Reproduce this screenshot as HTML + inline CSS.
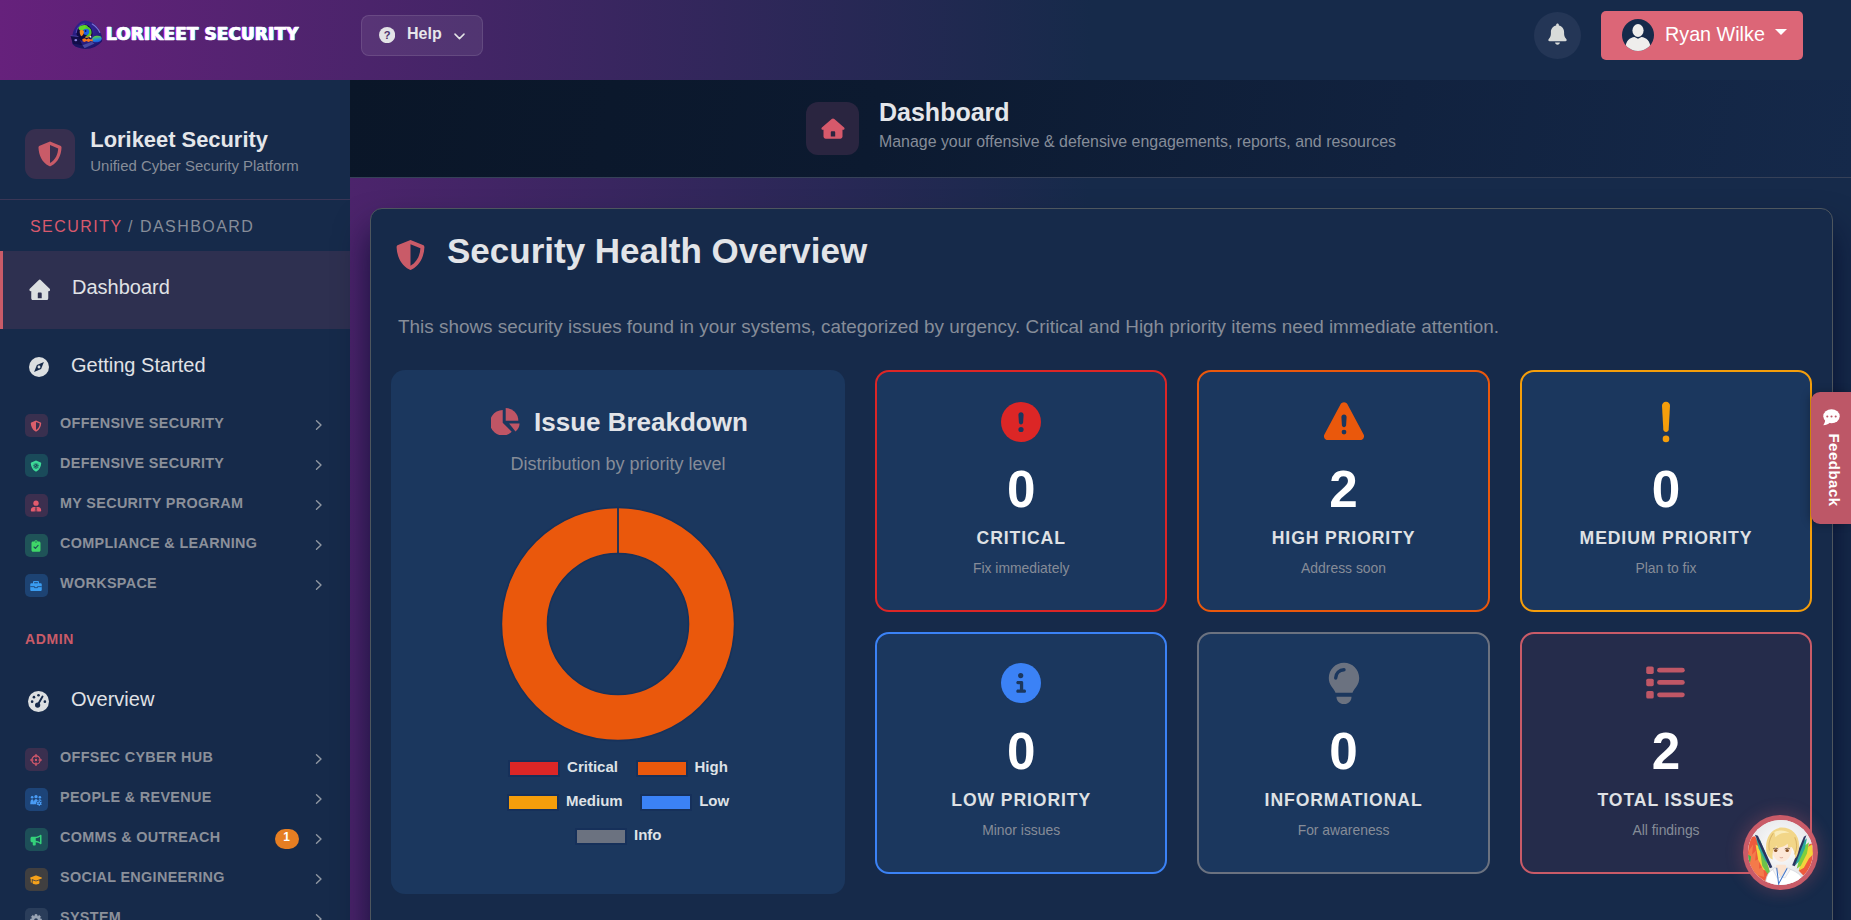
<!DOCTYPE html>
<html lang="en">
<head>
<meta charset="utf-8">
<title>Dashboard - Lorikeet Security</title>
<style>
*{box-sizing:border-box;margin:0;padding:0}
html,body{width:1851px;height:920px;overflow:hidden}
body{position:relative;font-family:"Liberation Sans",Arial,sans-serif;color:#e0e2e6;
  background:linear-gradient(91deg,#66217c 0%,#162a4a 58.5%,#162a4a 100%);}
svg{display:block}
.abs{position:absolute}

/* ---------- top bar ---------- */
header.topbar{position:absolute;left:0;top:0;width:1851px;height:80px}
.brand{position:absolute;left:70px;top:18px;height:34px;display:flex;align-items:center}
.brand-text{position:absolute;left:106px;top:22px;font-family:"DejaVu Sans Condensed","DejaVu Sans","Liberation Sans",sans-serif;font-weight:700;
  font-size:18.5px;line-height:24px;color:#fff;white-space:nowrap;letter-spacing:.3px;-webkit-text-stroke:.6px #fff;
  text-shadow:-1.2px 0 0 #ff3df0,1.2px 0 0 #22e6ff}
.help-btn{position:absolute;left:361px;top:15px;width:122px;height:41px;border-radius:8px;
  background:rgba(255,255,255,.075);border:1px solid rgba(255,255,255,.11)}
.help-btn .q{position:absolute;left:16.600px;top:11.200px}
.help-btn .t{position:absolute;left:45px;top:8px;font-size:16px;font-weight:700;color:#e6e6ea;line-height:20px}
.help-btn .c{position:absolute;left:91.500px;top:16.500px}
.bell{position:absolute;left:1534.100px;top:12px;width:46.800px;height:46.800px;border-radius:50%;background:#243656}
.bell svg{position:absolute;left:14.100px;top:11px}
.user-btn{position:absolute;left:1601px;top:11px;width:202px;height:49px;border-radius:5px;background:#dc6677}
.user-btn .av{position:absolute;left:21px;top:8px;width:32px;height:32px;border-radius:50%;background:#162a4a;overflow:hidden}
.user-btn .nm{position:absolute;left:64px;top:11px;font-size:19.750px;line-height:24px;color:#fff;white-space:nowrap}
.user-btn .caret{position:absolute;left:174px;top:18px;width:0;height:0;border-left:6px solid transparent;border-right:6px solid transparent;border-top:6px solid #fff}

/* ---------- sidebar ---------- */
aside.sidebar{position:absolute;left:0;top:80px;width:350px;height:840px;background:#162a4a;overflow:hidden}
.sb-head{position:absolute;left:0;top:0;width:350px;height:120px;border-bottom:1px solid #3a3656}
.sb-logo{position:absolute;left:25px;top:49px;width:50px;height:50px;border-radius:11px;background:#372f4f}
.sb-logo svg{position:absolute;left:13px;top:12px}
.sb-title{position:absolute;left:90.300px;top:47px;font-size:21.900px;font-weight:700;line-height:26px;color:#e4e6ea;white-space:nowrap}
.sb-sub{position:absolute;left:90.300px;top:77px;font-size:14.950px;line-height:18px;color:#868d99;white-space:nowrap}
.crumb{position:absolute;left:30px;top:137px;font-size:16px;line-height:20px;letter-spacing:1.45px;color:#868d99;white-space:nowrap}
.crumb b{font-weight:400;color:#d9596d}
.nav-main{position:absolute;left:0;width:350px;height:78px}
.nav-main.active{background:#2e3050;border-left:3px solid #c95b68}
.nav-main .ic{position:absolute}
.nav-main .tx{position:absolute;font-size:20px;line-height:24px;color:#e0e2e6;white-space:nowrap}
.grp{position:absolute;left:0;width:350px;height:40px}
.grp .box{position:absolute;left:25px;top:8px;width:23px;height:23px;border-radius:5px}
.grp .box svg{position:absolute;left:5.300px;top:5.500px}
.grp .tx{position:absolute;left:60px;top:8.200px;font-size:14.400px;line-height:18px;font-weight:700;letter-spacing:.33px;color:#8b909a;white-space:nowrap}
.grp .chev{position:absolute;left:315px;top:13px}
.sec-label{position:absolute;left:25px;top:550px;font-size:14px;line-height:18px;font-weight:700;letter-spacing:.6px;color:#c95b68}
.badge{position:absolute;left:275px;top:9px;width:24px;height:20px;border-radius:10px;background:#e67e22;color:#fff;font-size:12px;font-weight:700;line-height:17px;text-align:center;padding-right:1px}

/* ---------- page header band ---------- */
.pagehead{position:absolute;left:350px;top:80px;width:1501px;height:98px;
  background:linear-gradient(100deg,#0a1628 0%,#0c1a30 35%,#11223f 70%,#15294a 100%);border-bottom:1px solid #364158}
.ph-icon{position:absolute;left:456px;top:22px;width:53px;height:53px;border-radius:12px;background:#2a2540}
.ph-icon svg{position:absolute;left:15px;top:16px}
.ph-title{position:absolute;left:529px;top:17px;font-size:25px;line-height:30px;font-weight:700;color:#e4e6ea;white-space:nowrap}
.ph-sub{position:absolute;left:529px;top:52px;font-size:15.920px;line-height:20px;color:#868d99;white-space:nowrap}

/* ---------- main card ---------- */
main.card{position:absolute;left:370px;top:208px;width:1463px;height:760px;background:#162a4a;border:1px solid #4e565e;border-radius:12px;
  box-shadow:0 22px 34px rgba(2,8,40,.72)}
.ci{position:absolute;left:1px;top:1px}
.card h1{position:absolute;left:75px;top:19px;font-size:35px;line-height:44px;font-weight:700;color:#e2e4e8;white-space:nowrap}
.card .h1ic{position:absolute;left:24px;top:29px}
.card .desc{position:absolute;left:26px;top:105px;font-size:18.900px;line-height:24px;color:#868d99;white-space:nowrap}

.panel{position:absolute;left:19px;top:160px;width:454px;height:524px;border-radius:14px;background:#1b375e}
.panel h2{position:absolute;left:143px;top:36px;font-size:26px;line-height:32px;font-weight:700;color:#e2e4e8;white-space:nowrap}
.panel .pie{position:absolute;left:100px;top:38px}
.panel .sub{position:absolute;left:0;top:83px;width:454px;text-align:center;font-size:18px;line-height:22px;color:#868c98}
.panel .donut{position:absolute;left:109.200px;top:135.800px}
.lg{position:absolute;height:16px}
.lg i{position:absolute;left:0;top:0;width:52px;height:16.500px;border:2px solid #16305a;display:block}
.lg span{position:absolute;left:59px;top:-2px;font-size:15px;line-height:18px;font-weight:700;color:#dfe2e6;white-space:nowrap}

.stat{position:absolute;width:292.400px;height:242px;border-radius:14px;border:2px solid #888;background:#1b375e;text-align:center}
.stat .ico{position:absolute;left:0;width:288.400px;top:28px;height:44px;display:flex;justify-content:center;align-items:center}
.stat .num{position:absolute;left:0;width:288.400px;top:89.500px;font-size:51.200px;line-height:56px;font-weight:700;color:#fff}
.stat .lbl{position:absolute;left:0;width:288.400px;top:155px;font-size:17.600px;line-height:22px;font-weight:700;letter-spacing:.9px;color:#dfe1e4}
.stat .sm{position:absolute;left:0;width:288.400px;top:187px;font-size:13.900px;line-height:18px;color:#868c98}

/* ---------- floating ---------- */
.feedback{position:absolute;left:1811px;top:392px;width:40px;height:132px;background:#bd5767;border-radius:9px 0 0 9px;box-shadow:-2px 0 8px rgba(0,0,0,.25)}
.feedback svg{position:absolute;left:12.300px;top:17.300px}
.feedback span{position:absolute;left:-18px;top:68px;width:82px;height:20px;transform:rotate(90deg);font-size:15px;line-height:20px;font-weight:700;letter-spacing:.5px;color:#fff;text-align:center}
.chat{position:absolute;left:1743px;top:815px;width:75px;height:75px;border-radius:50%;background:#c95b68;box-shadow:0 0 14px 5px rgba(201,91,104,.2)}
.chat .in{position:absolute;left:5px;top:5px;width:65px;height:65px;border-radius:50%;background:#f1f0ee;overflow:hidden}
</style>
</head>
<body>

<header class="topbar">
  <svg style="position:absolute;left:70px;top:19.500px" width="33" height="30" viewBox="0 0 33 30"><defs><radialGradient id="hg" cx=".45" cy=".35" r=".7"><stop offset="0" stop-color="#3a2aa8"/><stop offset="1" stop-color="#1c1466"/></radialGradient><linearGradient id="wg" x1="0" y1="0" x2="0" y2="1"><stop offset="0" stop-color="#62d82a"/><stop offset=".55" stop-color="#1f8fd0"/><stop offset="1" stop-color="#1f4fe0"/></linearGradient></defs><path d="M2.600 14.500 C4 7 9 1 15 .5 C22 1 28 6 30.500 12.500 C32 16 32.500 19 32 21.500 C28 26 22 29 15.500 29 C10 28.500 5 27 2.500 24 C1.800 21 2 17.500 2.600 14.500 Z" fill="url(#hg)"/><path d="M22.200 4 C25.500 6 28.300 9 29.800 12.500" fill="none" stroke="#8f86e6" stroke-width="1.100" stroke-linecap="round" opacity=".8"/><path d="M6.500 13 C7 8 10.500 4.600 14.500 4.500 C19 4.600 22.500 8.500 22.500 13.500 C22.500 18 19 21 14.500 21 C10 21 6.500 18 6.500 13 Z" fill="#0e0a42"/><path d="M6.200 13 C6.800 7.500 10.500 4 14.800 4" fill="none" stroke="#6f63d8" stroke-width=".8" opacity=".8"/><ellipse cx="13.200" cy="7.800" rx="4.800" ry="2.600" fill="#5fd82a" transform="rotate(-12 13.200 7.800)"/><path d="M15 6.500 C19 6 22 9 21.500 13 C21 16 18 17.500 15.500 16.500 C18 15 19 12 17.500 9.500 Z" fill="#4fca2a"/><path d="M15.800 16.600 C18.500 17 21 15.500 21.600 12.500 C21.200 16.800 18 18.600 15 17.600 Z" fill="#f6a81c"/><circle cx="16.200" cy="11.800" r="3.100" fill="#1f5fe4"/><circle cx="15.600" cy="11" r=".9" fill="#0c1a60"/><path d="M9.800 10.600 C11.500 9.600 13.800 10.200 14 12 C13.600 14.500 12.300 16 11.200 16.300 C10 15 9.400 12.500 9.800 10.600 Z" fill="#f68a1c"/><ellipse cx="26.800" cy="19" rx="5" ry="3.300" fill="url(#wg)" transform="rotate(-10 26.800 19)"/><path d="M12.300 19 L15 18.200 L16.500 19.500 L18.500 18.300 L20.500 19.600 L22.600 19 L22.800 21.400 L20.500 21 L18.600 22 L16.400 21 L14.500 22 L12.600 21.200 Z" fill="#f6741c"/><rect x="19.700" y="15.900" width="1.500" height="1.700" fill="#e8e8ff"/><path d="M.4 15.600 L8.400 16.500 L12.300 25.300 L3 24 Z" fill="#120d48"/><path d="M.4 15.600 L8.400 16.500" stroke="#5a55b8" stroke-width=".7"/><ellipse cx="5.800" cy="20.200" rx="1.400" ry="1.100" fill="#8d86e0"/><path d="M12.300 25.300 L21.800 21.700 L24.500 23.500 L14.500 28.300 Z" fill="#4a4aa0"/><path d="M3 24 L12.300 25.300 L14.500 28.300 L5.500 26.500 Z" fill="#1a1560"/></svg>
  <div class="brand-text">LORIKEET SECURITY</div>
  <div class="help-btn">
    <svg class="q" width="16.200" height="16.200" viewBox="0 0 16 16"><circle cx="8" cy="8" r="8" fill="#e3e3e6"/><text x="8" y="12" font-family="Liberation Sans, sans-serif" font-weight="700" font-size="11" text-anchor="middle" fill="#4d316b">?</text></svg>
    <span class="t">Help</span>
    <svg class="c" width="11" height="7" viewBox="0 0 11 7"><path d="M1 1.100 L5.500 5.600 L10 1.100" fill="none" stroke="#e3e3e6" stroke-width="1.5" stroke-linecap="round" stroke-linejoin="round"/></svg>
  </div>
  <div class="bell"><svg width="19" height="22" viewBox="0 0 18 21"><path d="M9 0.5c-.7 0-1.3.6-1.3 1.3v.7C4.8 3.100 2.700 5.600 2.700 8.700v1.300c0 1.800-.6 3.500-1.700 4.900l-.5.600c-.3.400-.4.900-.2 1.300.2.500.7.700 1.200.700h15c.5 0 1-.3 1.200-.700.2-.500.1-1-.2-1.300l-.5-.600c-1.100-1.400-1.700-3.100-1.700-4.900V8.700c0-3.100-2.100-5.600-5-6.200v-.7C10.300 1.100 9.700.5 9 .5zM6.700 18.700h4.600c0 1.200-1 2.100-2.300 2.100s-2.300-.9-2.300-2.100z" fill="#d8dbd9"/></svg></div>
  <div class="user-btn">
    <div class="av"><svg width="32" height="32" viewBox="0 0 32 32"><ellipse cx="16" cy="11.500" rx="5.600" ry="6.500" fill="#efeeec"/><path d="M3.500 29c0-7 4.500-10.500 9-11l3.500 1.800 3.500-1.800c4.500.5 9 4 9 11v3h-25z" fill="#efeeec"/></svg></div>
    <span class="nm">Ryan Wilke</span>
    <span class="caret"></span>
  </div>
</header>

<aside class="sidebar">
  <div class="sb-head">
    <div class="sb-logo"><svg width="24" height="26" viewBox="0 0 24 26"><path id="shieldhalf" d="M12 0.600 L22.300 4.700 C23.100 5 23.600 5.800 23.500 6.700 C23.200 13.500 20.400 21.200 12.900 25.100 C12.300 25.400 11.700 25.400 11.100 25.100 C3.600 21.200 0.800 13.500 0.500 6.700 C0.400 5.800 0.900 5 1.700 4.700 Z M12 4 L12 21.900 C17.600 18.700 19.900 13 20.200 7.400 Z" fill="#c95b68" fill-rule="evenodd"/></svg></div>
    <div class="sb-title">Lorikeet Security</div>
    <div class="sb-sub">Unified Cyber Security Platform</div>
  </div>
  <div class="crumb"><b>SECURITY</b> / DASHBOARD</div>
  <nav>
    <a class="nav-main active" style="top:171px"><svg class="ic" style="left:25.800px;top:27.600px" width="21.500" height="21.600" viewBox="0 0 24 21" preserveAspectRatio="none"><path d="M12 .6c.5 0 .9.2 1.300.5l9.800 8.500c.6.500.6 1.300.1 1.800-.4.500-1.100.6-1.700.3V18.600c0 1.200-1 2.200-2.200 2.200H4.700c-1.200 0-2.200-1-2.200-2.200V11.700c-.6.300-1.300.2-1.700-.3-.5-.500-.5-1.300.1-1.800L10.700 1.100c.4-.3.800-.5 1.300-.5zM9.800 14.300v4.300h4.400v-4.300c0-.6-.5-1.100-1.100-1.100h-2.200c-.6 0-1.100.5-1.100 1.100z" fill="#dcdfe1"/></svg><span class="tx" style="left:69px;top:24px">Dashboard</span></a>
    <a class="nav-main" style="top:249px"><svg class="ic" style="left:28.600px;top:28.400px" width="20" height="20" viewBox="0 0 24 24"><circle cx="12" cy="12" r="12" fill="#dcdfe1"/><path d="M17.900 6.100 L14.500 14.500 L6.100 17.900 L9.500 9.500 Z" fill="#162a4a"/><circle cx="12" cy="12" r="1.700" fill="#dcdfe1"/></svg><span class="tx" style="left:71px;top:24px">Getting Started</span></a>
    <a class="grp" style="top:326px"><span class="box" style="background:#39304f"><svg width="12" height="12" viewBox="0 0 24 24"><path d="M12 1 L21.300 4.800 C22 5.100 22.500 5.800 22.400 6.600 C22.100 12.700 19.600 19.600 12.800 23.100 C12.300 23.400 11.700 23.400 11.200 23.100 C4.400 19.600 1.900 12.700 1.600 6.600 C1.500 5.800 2 5.100 2.700 4.800 Z M12 4.100 L12 20.200 C17 17.300 19.100 12.200 19.400 7.100 Z" fill="#dc5f6b" fill-rule="evenodd"/></svg></span><span class="tx">OFFENSIVE SECURITY</span><svg class="chev" width="8" height="12" viewBox="0 0 8 12"><path d="M1.500 1.800 L6 6 L1.500 10.200" fill="none" stroke="#9097a2" stroke-width="1.400" stroke-linecap="round" stroke-linejoin="round"/></svg></a>
    <a class="grp" style="top:366px"><span class="box" style="background:#1a4a5a"><svg width="12" height="12" viewBox="0 0 24 24"><path d="M12 1 L21.300 4.800 C22 5.100 22.500 5.800 22.400 6.600 C22.100 12.700 19.600 19.600 12.800 23.100 C12.300 23.400 11.700 23.400 11.200 23.100 C4.400 19.600 1.900 12.700 1.600 6.600 C1.500 5.800 2 5.100 2.700 4.800 Z" fill="#3edc98"/><circle cx="12" cy="11.600" r="3.700" fill="#1a4a5a"/><circle cx="17.20" cy="11.60" r="1.1" fill="#1a4a5a"/><circle cx="15.68" cy="15.28" r="1.1" fill="#1a4a5a"/><circle cx="12.00" cy="16.80" r="1.1" fill="#1a4a5a"/><circle cx="8.32" cy="15.28" r="1.1" fill="#1a4a5a"/><circle cx="6.80" cy="11.60" r="1.1" fill="#1a4a5a"/><circle cx="8.32" cy="7.92" r="1.1" fill="#1a4a5a"/><circle cx="12.00" cy="6.40" r="1.1" fill="#1a4a5a"/><circle cx="15.68" cy="7.92" r="1.1" fill="#1a4a5a"/><circle cx="10.800" cy="10.600" r="1" fill="#3edc98"/><circle cx="13.300" cy="12.600" r=".8" fill="#3edc98"/></svg></span><span class="tx">DEFENSIVE SECURITY</span><svg class="chev" width="8" height="12" viewBox="0 0 8 12"><path d="M1.500 1.800 L6 6 L1.500 10.200" fill="none" stroke="#9097a2" stroke-width="1.400" stroke-linecap="round" stroke-linejoin="round"/></svg></a>
    <a class="grp" style="top:406px"><span class="box" style="background:#3c2f4f"><svg width="12" height="12" viewBox="0 0 24 24"><circle cx="12" cy="6.300" r="5.300" fill="#e55b6d"/><path d="M7.500 14 L10.400 14 L12 16 L13.600 14 L16.500 14 C19.800 14 22.300 16.700 22.300 20 L22.300 21.500 C22.300 22.300 21.700 23 20.800 23 L3.200 23 C2.300 23 1.700 22.300 1.700 21.500 L1.700 20 C1.700 16.700 4.200 14 7.500 14 Z" fill="#e55b6d"/><path d="M12 15.800 L10.600 17.400 L11.300 18.300 L10 23 L14 23 L12.700 18.300 L13.400 17.400 Z" fill="#3c2f4f" stroke="#3c2f4f" stroke-width="1.200"/><path d="M12 16.400 L11.200 17.400 L11.700 18.200 L10.900 22.300 L13.100 22.300 L12.300 18.200 L12.800 17.400 Z" fill="#e55b6d"/></svg></span><span class="tx">MY SECURITY PROGRAM</span><svg class="chev" width="8" height="12" viewBox="0 0 8 12"><path d="M1.500 1.800 L6 6 L1.500 10.200" fill="none" stroke="#9097a2" stroke-width="1.400" stroke-linecap="round" stroke-linejoin="round"/></svg></a>
    <a class="grp" style="top:446px"><span class="box" style="background:#1f5358"><svg width="12" height="12" viewBox="0 0 24 24"><path d="M6 3 L8.700 3 C9.100 1.500 10.400 .5 12 .5 C13.600 .5 14.900 1.500 15.300 3 L18 3 C19.700 3 21 4.300 21 6 L21 20.500 C21 22.200 19.700 23.500 18 23.500 L6 23.500 C4.300 23.500 3 22.200 3 20.500 L3 6 C3 4.300 4.300 3 6 3 Z" fill="#3fd768"/><circle cx="12" cy="4" r="1.300" fill="#1f5358"/><path d="M8 14 L10.800 16.900 L16.200 10.800" fill="none" stroke="#1f5358" stroke-width="2.300" stroke-linecap="round" stroke-linejoin="round"/></svg></span><span class="tx">COMPLIANCE &amp; LEARNING</span><svg class="chev" width="8" height="12" viewBox="0 0 8 12"><path d="M1.500 1.800 L6 6 L1.500 10.200" fill="none" stroke="#9097a2" stroke-width="1.400" stroke-linecap="round" stroke-linejoin="round"/></svg></a>
    <a class="grp" style="top:486px"><span class="box" style="background:#1d4373"><svg width="12" height="12" viewBox="0 0 24 24"><path d="M8.500 2 L15.500 2 C16.900 2 18 3.100 18 4.500 L18 6.500 L21 6.500 C22.400 6.500 23.500 7.600 23.500 9 L23.500 19.500 C23.500 20.900 22.400 22 21 22 L3 22 C1.600 22 .5 20.900 .5 19.500 L.5 9 C.5 7.600 1.600 6.500 3 6.500 L6 6.500 L6 4.500 C6 3.100 7.100 2 8.500 2 Z M8.300 6.500 L15.700 6.500 L15.700 4.600 C15.700 4.400 15.600 4.300 15.400 4.300 L8.600 4.300 C8.400 4.300 8.300 4.400 8.300 4.600 Z" fill="#3a9cf0" fill-rule="evenodd"/><path d="M.5 13.300 L9 13.300 L9 15.300 L15 15.300 L15 13.300 L23.500 13.300" fill="none" stroke="#1d4373" stroke-width="1.700"/></svg></span><span class="tx">WORKSPACE</span><svg class="chev" width="8" height="12" viewBox="0 0 8 12"><path d="M1.500 1.800 L6 6 L1.500 10.200" fill="none" stroke="#9097a2" stroke-width="1.400" stroke-linecap="round" stroke-linejoin="round"/></svg></a>
    <div class="sec-label">ADMIN</div>
    <a class="nav-main" style="top:583px"><svg class="ic" style="left:28px;top:28px" width="21" height="21" viewBox="0 0 24 24"><circle cx="12" cy="12" r="12" fill="#dcdfe1"/><circle cx="12" cy="4.800" r="1.500" fill="#162a4a"/><circle cx="6.800" cy="7" r="1.500" fill="#162a4a"/><circle cx="4.700" cy="12.200" r="1.500" fill="#162a4a"/><circle cx="19.300" cy="12.200" r="1.500" fill="#162a4a"/><path d="M16.600 6.300 L11.200 15.600" stroke="#162a4a" stroke-width="2.200" stroke-linecap="round"/><circle cx="11" cy="16" r="3" fill="#162a4a"/></svg><span class="tx" style="left:71px;top:24px">Overview</span></a>
    <a class="grp" style="top:660px"><span class="box" style="background:#3a2f4f"><svg width="12" height="12" viewBox="0 0 24 24"><circle cx="12" cy="12" r="8.300" fill="none" stroke="#dc5a6c" stroke-width="2.400"/><path d="M12 .8 V6.200 M12 17.800 V23.200 M.8 12 H6.200 M17.800 12 H23.200" stroke="#dc5a6c" stroke-width="2.400" stroke-linecap="round"/><circle cx="12" cy="12" r="2.300" fill="#dc5a6c"/></svg></span><span class="tx">OFFSEC CYBER HUB</span><svg class="chev" width="8" height="12" viewBox="0 0 8 12"><path d="M1.500 1.800 L6 6 L1.500 10.200" fill="none" stroke="#9097a2" stroke-width="1.400" stroke-linecap="round" stroke-linejoin="round"/></svg></a>
    <a class="grp" style="top:700px"><span class="box" style="background:#1d4478"><svg width="12" height="12" viewBox="0 0 24 24"><circle cx="4.3" cy="6.5" r="2.6" fill="#4a9cf5"/><path d="M0.5 20.5 C0.5 15.1 1.6400000000000001 10.7 4.3 10.7 C6.959999999999999 10.7 8.1 15.1 8.1 20.5 Z" fill="#4a9cf5"/><circle cx="19.7" cy="6.5" r="2.6" fill="#4a9cf5"/><path d="M15.899999999999999 14.5 C15.899999999999999 15.1 17.04 10.7 19.7 10.7 C22.36 10.7 23.5 15.1 23.5 14.5 Z" fill="#4a9cf5"/><circle cx="12" cy="5.3" r="3.3" fill="#4a9cf5"/><path d="M7.2 20.5 C7.2 14.6 8.64 10.2 12 10.2 C15.36 10.2 16.8 14.6 16.8 20.5 Z" fill="#4a9cf5"/><circle cx="18.5" cy="18.6" r="5.800" fill="#1d4478"/><rect x="17.40" y="13.40" width="2.200" height="10.400" rx=".6" fill="#4a9cf5" transform="rotate(0 18.5 18.6)"/><rect x="17.40" y="13.40" width="2.200" height="10.400" rx=".6" fill="#4a9cf5" transform="rotate(60 18.5 18.6)"/><rect x="17.40" y="13.40" width="2.200" height="10.400" rx=".6" fill="#4a9cf5" transform="rotate(120 18.5 18.6)"/><circle cx="18.5" cy="18.6" r="3.700" fill="#4a9cf5"/><circle cx="18.5" cy="18.6" r="1.500" fill="#1d4478"/></svg></span><span class="tx">PEOPLE &amp; REVENUE</span><svg class="chev" width="8" height="12" viewBox="0 0 8 12"><path d="M1.500 1.800 L6 6 L1.500 10.200" fill="none" stroke="#9097a2" stroke-width="1.400" stroke-linecap="round" stroke-linejoin="round"/></svg></a>
    <a class="grp" style="top:740px"><span class="box" style="background:#1d4f58"><svg width="12" height="12" viewBox="0 0 24 24"><path d="M21.500 1.500 C22.300 1.500 23 2.200 23 3 L23 19 C23 19.800 22.300 20.500 21.500 20.500 C21.100 20.500 20.700 20.300 20.400 20.100 C18 18 15 16.700 11.500 16.500 L11.500 21 C11.500 22.100 10.600 23 9.500 23 L7.500 23 C6.400 23 5.500 22.100 5.500 21 L5.500 16.500 L4 16.500 C2.300 16.500 1 15.200 1 13.500 L1 8.500 C1 6.800 2.300 5.500 4 5.500 L10 5.500 C14 5.500 17.700 4.200 20.400 1.900 C20.700 1.700 21.100 1.500 21.500 1.500 Z M20 5.700 C17.600 7.300 14.700 8.200 11.500 8.400 L11.500 13.600 C14.700 13.800 17.600 14.700 20 16.300 Z" fill="#34d27a" fill-rule="evenodd"/></svg></span><span class="tx">COMMS &amp; OUTREACH</span><span class="badge">1</span><svg class="chev" width="8" height="12" viewBox="0 0 8 12"><path d="M1.500 1.800 L6 6 L1.500 10.200" fill="none" stroke="#9097a2" stroke-width="1.400" stroke-linecap="round" stroke-linejoin="round"/></svg></a>
    <a class="grp" style="top:780px"><span class="box" style="background:#403f40"><svg width="12" height="12" viewBox="0 0 24 24"><path d="M12 3 C12.300 3 12.600 3.100 12.900 3.200 L23.200 7 C23.700 7.200 24 7.600 24 8.100 C24 8.600 23.700 9 23.200 9.200 L12.900 13 C12.300 13.200 11.700 13.200 11.100 13 L3.500 10.200 L3.500 16.500 C3.500 17 3.100 17.500 2.500 17.500 C1.900 17.500 1.500 17 1.500 16.500 L1.500 9.500 L.8 9.200 C.3 9 0 8.600 0 8.100 C0 7.600 .3 7.200 .8 7 L11.100 3.200 C11.400 3.100 11.700 3 12 3 Z" fill="#f5a11a"/><path d="M5.500 12.600 L10.600 14.500 C11.500 14.800 12.500 14.800 13.400 14.500 L18.500 12.600 L19 17.700 C19 19.500 15.900 21 12 21 C8.100 21 5 19.500 5 17.700 Z" fill="#f5a11a"/></svg></span><span class="tx">SOCIAL ENGINEERING</span><svg class="chev" width="8" height="12" viewBox="0 0 8 12"><path d="M1.500 1.800 L6 6 L1.500 10.200" fill="none" stroke="#9097a2" stroke-width="1.400" stroke-linecap="round" stroke-linejoin="round"/></svg></a>
    <a class="grp" style="top:820px"><span class="box" style="background:#2a3d5a"><svg width="12" height="12" viewBox="0 0 24 24"><path d="M20.21 9.44 L23.34 10.11 L23.34 13.89 L20.21 14.56 L19.61 16.00 L21.36 18.69 L18.69 21.36 L16.00 19.61 L14.56 20.21 L13.89 23.34 L10.11 23.34 L9.44 20.21 L8.00 19.61 L5.31 21.36 L2.64 18.69 L4.39 16.00 L3.79 14.56 L0.66 13.89 L0.66 10.11 L3.79 9.44 L4.39 8.00 L2.64 5.31 L5.31 2.64 L8.00 4.39 L9.44 3.79 L10.11 0.66 L13.89 0.66 L14.56 3.79 L16.00 4.39 L18.69 2.64 L21.36 5.31 L19.61 8.00 Z" fill="#9aa5b5" stroke="#9aa5b5" stroke-width="1" stroke-linejoin="round"/><circle cx="12" cy="12" r="3.700" fill="#2a3d5a"/></svg></span><span class="tx">SYSTEM</span><svg class="chev" width="8" height="12" viewBox="0 0 8 12"><path d="M1.500 1.800 L6 6 L1.500 10.200" fill="none" stroke="#9097a2" stroke-width="1.400" stroke-linecap="round" stroke-linejoin="round"/></svg></a>
  </nav>
</aside>

<section class="pagehead">
  <div class="ph-icon"><svg width="24" height="21" viewBox="0 0 24 21"><path d="M12 .6c.5 0 .9.2 1.300.5l9.800 8.500c.6.500.6 1.300.1 1.800-.4.500-1.100.6-1.700.3V18.600c0 1.200-1 2.200-2.200 2.200H4.700c-1.200 0-2.200-1-2.200-2.200V11.700c-.6.300-1.300.2-1.700-.3-.5-.500-.5-1.300.1-1.800L10.700 1.100c.4-.3.800-.5 1.300-.5zM9.800 14.300v4.300h4.400v-4.300c0-.6-.5-1.100-1.100-1.100h-2.200c-.6 0-1.100.5-1.100 1.100z" fill="#d6596b"/></svg></div>
  <div class="ph-title">Dashboard</div>
  <div class="ph-sub">Manage your offensive &amp; defensive engagements, reports, and resources</div>
</section>

<main class="card">
 <div class="ci">
  <svg class="h1ic" width="29" height="32" viewBox="0 0 24 26"><use href="#shieldhalf"/></svg>
  <h1>Security Health Overview</h1>
  <p class="desc">This shows security issues found in your systems, categorized by urgency. Critical and High priority items need immediate attention.</p>
  <section class="panel">
    <svg class="pie" width="29" height="27" viewBox="0 0 28 26"><path d="M11.300 1.900 A12.300 12.300 0 1 0 20 22.900 L11.300 14.200 Z" fill="#bf5565"/><path d="M14.200 0 A12.200 12.200 0 0 1 26.400 12.200 L14.200 12.200 Z" fill="#bf5565"/><path d="M17.500 15 L27.600 15 A10.500 10.500 0 0 1 23.700 22.700 Z" fill="#bf5565"/></svg>
    <h2>Issue Breakdown</h2>
    <div class="sub">Distribution by priority level</div>
    <svg class="donut" width="236" height="236" viewBox="0 0 236 236"><circle cx="118" cy="118" r="93.55" fill="none" stroke="#ea580c" stroke-width="46.099999999999994"/><circle cx="118" cy="118" r="116.6" fill="none" stroke="#17325b" stroke-width="1.600"/><circle cx="118" cy="118" r="70.5" fill="none" stroke="#17325b" stroke-width="1.600"/><path d="M118 1.4000000000000057 L118 47.5" stroke="#17325b" stroke-width="1.800"/></svg>
    <div class="lg" style="left:117.1px;top:390px"><i style="background:#dc2626"></i><span>Critical</span></div>
    <div class="lg" style="left:244.5px;top:390px"><i style="background:#ea580c"></i><span>High</span></div>
    <div class="lg" style="left:116px;top:424px"><i style="background:#f59e0b"></i><span>Medium</span></div>
    <div class="lg" style="left:249.2px;top:424px"><i style="background:#3b82f6"></i><span>Low</span></div>
    <div class="lg" style="left:184px;top:458px"><i style="background:#6b7280"></i><span>Info</span></div>
  </section>
  <article class="stat" style="left:503px;top:160px;border-color:#dc2626;background:#1b375e"><div class="ico"><svg width="40" height="40" viewBox="0 0 40 40"><circle cx="20" cy="20" r="20" fill="#dc2626"/><path d="M20 10.200 C21.500 10.200 22.700 11.400 22.600 12.900 L22.100 20.600 C22 21.700 21.100 22.500 20 22.500 C18.900 22.500 18 21.700 17.900 20.600 L17.400 12.900 C17.300 11.400 18.500 10.200 20 10.200 Z" fill="#1b375e"/><circle cx="20" cy="27.500" r="2.600" fill="#1b375e"/></svg></div><div class="num">0</div><div class="lbl">CRITICAL</div><div class="sm">Fix immediately</div></article>
  <article class="stat" style="left:825.4px;top:160px;border-color:#ea580c;background:#1b375e"><div class="ico"><svg width="42" height="40" viewBox="0 0 42 40"><path d="M21 .2 C22.400 .2 23.600 .9 24.300 2.100 L40.600 32.600 C41.200 33.700 41.200 35.100 40.500 36.200 C39.900 37.300 38.700 38 37.400 38 L4.600 38 C3.300 38 2.100 37.300 1.500 36.200 C.8 35.100 .8 33.700 1.400 32.600 L17.700 2.100 C18.400 .9 19.600 .2 21 .2 Z" fill="#ea580c"/><path d="M21 12.400 C22.500 12.400 23.700 13.600 23.600 15.100 L23.100 23.300 C23 24.400 22.100 25.200 21 25.200 C19.900 25.200 19 24.400 18.900 23.300 L18.400 15.100 C18.300 13.600 19.500 12.400 21 12.400 Z" fill="#1b375e"/><circle cx="21" cy="30.100" r="2.400" fill="#1b375e"/></svg></div><div class="num">2</div><div class="lbl">HIGH PRIORITY</div><div class="sm">Address soon</div></article>
  <article class="stat" style="left:1147.8px;top:160px;border-color:#f59e0b;background:#1b375e"><div class="ico"><svg width="10" height="42" viewBox="0 0 10 42"><path d="M5 .7 C7.300 .7 9.100 2.500 9 4.800 L7.700 28.500 C7.600 29.900 6.400 31 5 31 C3.600 31 2.400 29.900 2.300 28.500 L1 4.800 C.9 2.500 2.700 .7 5 .7 Z" fill="#f59e0b"/><circle cx="5" cy="37.900" r="3.300" fill="#f59e0b"/></svg></div><div class="num">0</div><div class="lbl">MEDIUM PRIORITY</div><div class="sm">Plan to fix</div></article>
  <article class="stat" style="left:503px;top:422px;border-color:#3b82f6;background:#1b375e"><div class="ico" style="top:26.800px"><svg width="40" height="40" viewBox="0 0 40 40"><circle cx="20" cy="20" r="20" fill="#3b82f6"/><circle cx="19.700" cy="12.600" r="2.600" fill="#1b375e"/><path d="M16.900 18 L20.600 18 C21.500 18 22.200 18.700 22.200 19.600 L22.200 26.600 L23.400 26.600 C24.300 26.600 25 27.300 25 28.200 C25 29.100 24.300 29.800 23.400 29.800 L16.900 29.800 C16 29.800 15.300 29.100 15.300 28.200 C15.300 27.300 16 26.600 16.900 26.600 L18.900 26.600 L18.900 21.200 L16.900 21.200 C16 21.200 15.300 20.500 15.300 19.600 C15.300 18.700 16 18 16.900 18 Z" fill="#1b375e"/></svg></div><div class="num">0</div><div class="lbl">LOW PRIORITY</div><div class="sm">Minor issues</div></article>
  <article class="stat" style="left:825.4px;top:422px;border-color:#6b7280;background:#1b375e"><div class="ico" style="top:26.800px"><svg width="32" height="42" viewBox="0 0 32 42"><path d="M16 .8 C24.400 .8 31.200 7.600 31.200 16 C31.200 19.300 30.100 22.300 28.300 24.800 C26.800 26.800 25.200 28.600 24.500 30.800 L7.500 30.800 C6.800 28.600 5.200 26.800 3.700 24.800 C1.900 22.300 .8 19.300 .8 16 C.8 7.600 7.600 .8 16 .8 Z" fill="#6b7280"/><path d="M8.500 34.700 L23.500 34.700 L23.500 35 C23.500 39 20.200 42.200 16.200 42.200 L15.800 42.200 C11.800 42.200 8.500 39 8.500 35 Z" fill="#6b7280"/><path d="M7.700 16 C7.700 11.400 11.400 7.700 16 7.700" fill="none" stroke="#1b375e" stroke-width="3.400" stroke-linecap="round"/></svg></div><div class="num">0</div><div class="lbl">INFORMATIONAL</div><div class="sm">For awareness</div></article>
  <article class="stat" style="left:1147.8px;top:422px;border-color:#c95b68;background:#252c4b"><div class="ico" style="top:26.800px"><svg width="39" height="33" viewBox="0 0 39 33.400"><rect x="0" y="0.4" width="7.600" height="7.600" rx="1.700" fill="#c05766"/><rect x="11" y="1.7000000000000002" width="28" height="5" rx="2.500" fill="#c05766"/><rect x="0" y="12.8" width="7.600" height="7.600" rx="1.700" fill="#c05766"/><rect x="11" y="14.100000000000001" width="28" height="5" rx="2.500" fill="#c05766"/><rect x="0" y="25.4" width="7.600" height="7.600" rx="1.700" fill="#c05766"/><rect x="11" y="26.7" width="28" height="5" rx="2.500" fill="#c05766"/></svg></div><div class="num">2</div><div class="lbl">TOTAL ISSUES</div><div class="sm">All findings</div></article>
 </div>
</main>

<div class="feedback"><svg width="17" height="17" viewBox="0 0 17 17"><ellipse cx="8.500" cy="7.200" rx="8.200" ry="7" fill="#fff"/><path d="M2.300 10.500 C2.100 12.800 1.300 14.800 .3 16.300 C2.900 16.300 5.200 15.300 6.800 13.800 Z" fill="#fff"/><circle cx="4.300" cy="7.500" r="1.050" fill="#bd5767"/><circle cx="8.500" cy="7.500" r="1.050" fill="#bd5767"/><circle cx="12.700" cy="7.500" r="1.050" fill="#bd5767"/></svg><span>Feedback</span></div>
<div class="chat"><div class="in"><svg width="65" height="65" viewBox="0 0 64 64"><defs><radialGradient id="cbg" cx=".5" cy=".4" r=".65"><stop offset="0" stop-color="#ffffff"/><stop offset="1" stop-color="#dedfe3"/></radialGradient></defs><rect width="64" height="64" fill="url(#cbg)"/><path d="M-1 17 L7 16 L14 30 L20 46 L23 62 L10 66 L-1 58 Z" fill="#ee5a3c"/><path d="M1 30 L5 24 L4 34 L8 30 L7 40 L11 38 L11 48 L15 46 L16 56 L8 54 L2 44 Z" fill="#f47a4a"/><path d="M7.500 24 L12.500 27 L18 41 L21 51 L15 49 L10 39 Z" fill="#f2d43c"/><path d="M12 31 L17 38 L22 52 L19 53 L14 45 Z" fill="#6cc24a"/><path d="M8 18 L12 20 L18.500 36 L21 45 L16 39 L10.500 28 Z" fill="#2aa89a"/><path d="M6.800 14.500 L9.800 15.500 L24 46.500 L21.500 47.500 Z" fill="#2a3560"/><path d="M0 34 L3 36 L2 42 L0 44 Z" fill="#3cb64a"/><path d="M65 22 L60 24 L55 38 L50 50 L56 56 L65 50 Z" fill="#ee5a3c"/><path d="M63 24 L58 27 L52 42 L50 50 L55 47 L60 38 L64 34 Z" fill="#f2d43c"/><path d="M60 22 L56 25 L50 40 L48 48 L52 45 L58 33 Z" fill="#7fcf3c"/><path d="M58 18 L54.500 21 L48 37 L46 45 L50 41 L56 28 Z" fill="#2aa89a"/><path d="M57.500 15 L55 16.500 L43.500 44.500 L46 45.500 Z" fill="#2a3560"/><path d="M17 66 C17 56 20 50 27 47.500 L38 47.500 C46 49.500 55 54 57 66 Z" fill="#ffffff" stroke="#d4d6dc" stroke-width=".8"/><path d="M28 44 L37 44 L38.500 48.500 L32.500 56 L27 48.500 Z" fill="#fbe3d0"/><path d="M26.500 46.500 L32.500 56 L29 57.500 L24.500 49 Z" fill="#f4f5f8" stroke="#d4d6dc" stroke-width=".6"/><path d="M39 46.500 L32.500 56 L36.500 57 L41.500 49 Z" fill="#f4f5f8" stroke="#d4d6dc" stroke-width=".6"/><path d="M28.300 47 L30.300 64.500 M38.600 47.600 L30.300 62.500" stroke="#3f74c8" stroke-width="1" fill="none"/><path d="M23.500 28 C23.500 22 28 19 33 19 C38.500 19 43 22.500 43 29 C43 35 38.500 41.200 33 41.200 C28 41.200 23.500 35 23.500 28 Z" fill="#fde8d8"/><path d="M18.500 33 C16 22 20 9.500 32 7.500 C44 7 52 16 50 29 C49.500 33 48 36 46.500 38 C46.500 33 45 29 43 26.500 C42 26.500 40.500 27.300 39 27.600 C39.500 26.500 39.500 25 39 23.500 C36 26.300 31 27.600 27 27.600 C28 26.800 28.500 26 28.500 25 C26.500 26.500 25 28.500 24.500 31 C24 35 24 37 24.500 39 C22 38 19.500 36 18.500 33 Z" fill="#f2d688"/><path d="M26 12 C30 9.500 37 9.500 41 13 C36 12 31 13 27 17 Z" fill="#faecba"/><path d="M21 30 C20 24 21 18 25 13 M46 34 C48.500 28 48.500 22 46 17" fill="none" stroke="#d9b466" stroke-width="1"/><ellipse cx="27.300" cy="30" rx="1.700" ry="1.500" fill="#8a5226"/><ellipse cx="38.600" cy="30" rx="1.700" ry="1.500" fill="#8a5226"/><path d="M24.800 28.400 C26 27.600 28.500 27.600 29.800 28.600 M36.200 28.600 C37.500 27.600 40 27.600 41.200 28.400" fill="none" stroke="#5a3a1e" stroke-width=".8"/><path d="M31.300 36.800 C32.200 37.300 33.600 37.300 34.500 36.800" fill="none" stroke="#c98a7a" stroke-width=".7"/></svg></div></div>

</body>
</html>
